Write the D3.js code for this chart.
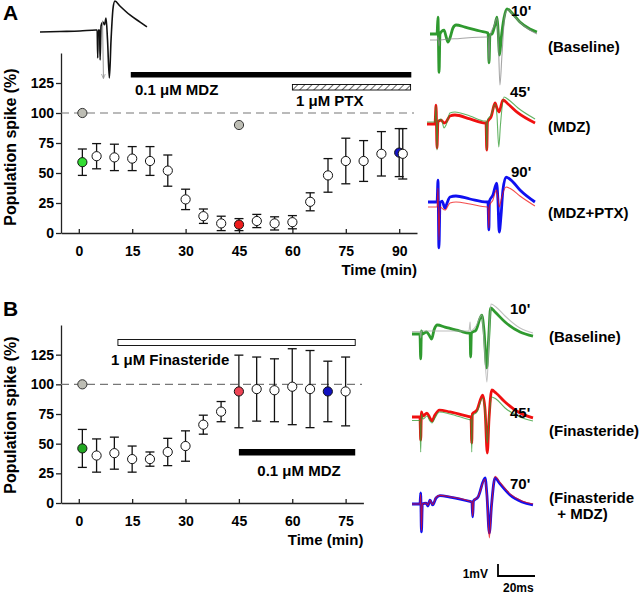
<!DOCTYPE html>
<html><head><meta charset="utf-8">
<script src="https://cdn.jsdelivr.net/npm/d3@7"></script>
<style>
body{margin:0;background:#fff}
svg{display:block}
text{font-family:"Liberation Sans",Arial,sans-serif;font-weight:bold;fill:#000}
</style></head><body>
<svg id="c" width="640" height="596"></svg>
<script>
// ---------- Panel A data ----------
const timeA = [1,5,10,15,20,25,30,35,40,45,50,55,60,65,70,75,80,85,90,91];
const meanA = [59,64,63,62,60,52,28,14,8,7,10,8,9,26,48,60,60,66,67,66];
const semA  = [11,10.5,11,10,12,13,8.5,6,6,5,5.5,5.5,5.5,7.5,14,19,17,18.5,20,21];
const markA = ["base","open","open","open","open","open","open","open","open","drug1","open","open","open","open","open","open","open","open","drug2","open"];
const grayTimeA = [1,45];
const grayMeanA = [100,90];
const xTicksA = [0,15,30,45,60,75,90];
const drugA = [{label:"0.1 μM MDZ", start:14.6, end:93.4, kind:"solid"},
               {label:"1 μM PTX", start:60, end:93.2, kind:"hatch"}];

// ---------- Panel B data ----------
const timeB = [1,5,10,15,20,25,30,35,40,45,50,55,60,65,70,75];
const meanB = [46,40,42,37,37,43,48,66,77,94,96,95,98,96,94,94];
const semB  = [16,14,13.5,11,6,11.5,12.8,8,8.5,30.6,27,26.5,32,32.5,25.5,29];
const markB = ["base","open","open","open","open","open","open","open","open","drug1","open","open","open","open","drug2","open"];
const grayTimeB = [1];
const grayMeanB = [100];
const xTicksB = [0,15,30,45,60,75];
const drugB = [{label:"1 μM Finasteride", start:11, end:77.7, kind:"open"},
               {label:"0.1 μM MDZ", start:45, end:77.7, kind:"solid"}];

const yTicks = [0,25,50,75,100,125];

// ---------- Example traces: [ms, mV] ----------
const traceTop = [[0,0],[10.8,0.04],[21.6,0.08],[30.3,0.17],[30.9,0.17],[31.2,-2.17],[31.5,0.17],[32.2,0.17],[32.5,-2.33],[33,0.5],[34,0.83],[34.9,0.6],[35.7,1.17],[36.5,-0.67],[37.5,-3.83],[38.4,-0.67],[39.5,2.0],[40.5,2.58],[43.2,2.17],[48.6,1.42],[54.1,0.83],[57.8,0.42]];

const traceA1Now = [[0,0],[3.8,0],[4.3,1.4],[4.9,-3.2],[5.4,0],[6.5,0.25],[7.6,0.33],[8.6,-0.17],[9.7,-0.67],[10.8,-0.33],[12.4,0.5],[14.1,0.75],[18.9,0.58],[27,0.25],[31.4,0.08],[31.9,-2.4],[32.4,-0.08],[33.5,0],[35.1,0.75],[36.2,1.4],[36.8,0.33],[37.6,-1.75],[38.4,-0.5],[40,1.33],[41.6,2.1],[44.3,1.75],[48.6,1.0],[54,0.42],[57.8,0.17]];
const traceA1Ref = [[0,-0.5],[3.8,-0.5],[4.3,-0.25],[4.9,-1],[5.4,-0.5],[16.2,-0.37],[30.8,-0.25],[31.4,-0.25],[31.9,-2.3],[32.4,-0.17],[34.6,0.67],[36.2,1.33],[37,-0.9],[37.8,-4.25],[38.9,-1.75],[40.5,1.6],[42.2,2.0],[45.9,1.4],[51.4,0.6],[57.8,0]];
const traceA2Now = [[0,0],[4.3,0],[4.9,1.58],[5.4,-2.0],[5.9,0.17],[7.6,0.33],[9.2,0.08],[10.3,0.17],[12.4,0.67],[15.1,0.75],[23.2,0.42],[31.4,0.08],[31.9,0.08],[32.3,-2.17],[32.7,0.17],[34.6,0.58],[36.8,1.75],[37.8,1.33],[38.9,1.0],[41.1,2.0],[43.8,1.67],[49.2,0.92],[58.4,0.08]];
const traceA2Ref = [[0,0.17],[4.3,0.17],[4.9,1.5],[5.4,-2.17],[5.9,0.25],[7.6,0.42],[8.1,0.25],[9.2,-0.33],[10.3,-0.08],[12.4,0.92],[15.1,1.0],[23.2,0.67],[31.4,0.25],[31.9,0.25],[32.3,-2.17],[32.7,0.33],[34.6,0.75],[36.8,1.67],[37.8,0.75],[38.8,-1.92],[39.7,-0.08],[41.6,2.25],[44.3,2.0],[49.2,1.33],[58.4,0.42]];
const traceA3Now = [[0,0],[4.9,0],[5.4,1.83],[5.9,-3.83],[6.5,-0.08],[7.6,0.08],[9.2,-0.5],[10.3,-0.08],[11.9,0.42],[15.1,0.5],[22.7,0.25],[31.9,0],[32.4,0],[32.9,-2.33],[33.2,0.08],[35.1,0.58],[37.1,1.58],[37.8,0.17],[38.5,-2.5],[39.5,-1.08],[40.5,1.0],[42.2,2.08],[44.9,1.83],[49.7,1.0],[57.8,0]];
const traceA3Ref = [[0,-0.42],[4.9,-0.42],[5.4,1.17],[5.9,-3.17],[6.5,-0.42],[9.2,-0.67],[11.9,-0.08],[15.1,0],[22.7,-0.17],[31.9,-0.42],[32.4,-0.42],[32.9,-2.17],[33.2,-0.33],[35.1,0.17],[37,1.0],[37.8,0.33],[38.6,-0.42],[39.5,0.17],[42.2,1.25],[44.9,1.08],[49.7,0.5],[57.8,-0.33]];

const traceB1Now = [[0,0],[4.3,0],[4.7,-2.08],[5.1,0.25],[5.7,0],[7.9,0.17],[9.2,-0.08],[10.6,-0.42],[11.9,0.33],[13.7,0.75],[17.8,0.58],[25.9,0.25],[30.8,0.08],[31.4,0.08],[31.7,-1.92],[32.1,0.08],[34.6,0.33],[37.7,1.58],[38.9,0.33],[40.4,-2.83],[41.4,-0.5],[42.5,2.17],[44.9,1.83],[50.3,1.0],[58.4,0.17],[65.4,-0.17]];
const traceB1Ref = [[0,0.21],[4.3,0.21],[4.7,-0.33],[5.1,0.25],[15.1,0.25],[30.8,0.25],[31.4,1.0],[31.7,0.25],[34.6,0.67],[37.7,1.58],[38.9,-0.5],[40.5,-4.0],[41.6,-0.5],[42.7,2.5],[45.4,2.25],[50.3,1.5],[58.4,0.5],[65.4,0.08]];
const traceB2Now = [[0,0],[4.3,0],[4.7,-1.92],[5.1,0.42],[5.9,0.08],[8.1,0.33],[9.7,-0.08],[10.8,-0.33],[12.4,0.17],[14.8,0.58],[20.5,0.42],[30.8,0.04],[31.9,0],[32.3,-2.17],[32.6,0.25],[35.1,0.58],[38.2,1.83],[39.5,0.58],[40.7,-3.0],[41.6,-0.25],[43.1,2.25],[45.4,2.0],[50.3,1.25],[58.4,0.33],[65.4,-0.08]];
const traceB2Ref = [[0,-0.29],[4.3,-0.29],[4.7,-2.92],[5.1,0.25],[5.9,-0.17],[8.1,0.08],[9.7,-0.33],[10.8,-0.5],[12.4,-0.08],[14.8,0.42],[20.5,0.25],[30.8,-0.21],[31.9,-0.25],[32.3,-2.92],[32.6,0.08],[35.1,0.42],[38.2,1.58],[39.5,0.42],[40.7,-2.17],[41.6,-0.25],[43.1,1.67],[45.4,1.5],[50.3,0.75],[58.4,0],[65.4,-0.33]];
const traceB3Now = [[0,0],[4.3,0],[4.7,0.92],[5.1,-2.33],[5.6,0],[7.6,0.08],[8.6,-0.17],[9.7,0.33],[11.2,-0.08],[13,0.5],[15.1,0.69],[20.5,0.58],[31.9,0.19],[32.4,0.17],[32.8,-1.08],[33.2,0.25],[35.7,0.58],[39.5,2.17],[40.5,0.75],[41.8,-2.42],[43,-0.08],[44.9,2.17],[47.6,1.67],[53,0.75],[59.5,0.17],[65.4,-0.08]];
const traceB3Ref = [[0,0],[4.3,0],[4.7,0.8],[5.1,-2.2],[5.6,0],[7.6,0.08],[8.6,-0.1],[9.7,0.3],[11.2,-0.05],[13,0.55],[15.1,0.72],[20.5,0.6],[31.9,0.2],[32.4,0.17],[32.8,-1.0],[33.2,0.25],[35.7,0.6],[39.5,2.05],[40.5,0.6],[41.8,-2.83],[43,-0.2],[44.9,2.3],[47.6,1.8],[53,0.85],[59.5,0.25],[65.4,0]];

const timeLabelsA = ["10'","45'","90'"];
const condLabelsA = [["(Baseline)"],["(MDZ)"],["(MDZ+PTX)"]];
const timeLabelsB = ["10'","45'","70'"];
const condLabelsB = [["(Baseline)"],["(Finasteride)"],["(Finasteride","  + MDZ)"]];
const scaleBar = {ms:20, mV:1};

// ---------- drawing ----------
const svg = d3.select("#c");
const defs = svg.append("defs");
const pat = defs.append("pattern").attr("id","hatch").attr("width",5).attr("height",5)
  .attr("patternUnits","userSpaceOnUse").attr("patternTransform","rotate(45)");
pat.append("rect").attr("width",5).attr("height",5).attr("fill","#fff");
pat.append("line").attr("x1",0).attr("y1",0).attr("x2",0).attr("y2",5).attr("stroke","#000").attr("stroke-width",1.2);
defs.append("marker").attr("id","arr").attr("viewBox","0 0 10 10").attr("refX",9).attr("refY",5)
  .attr("markerWidth",5).attr("markerHeight",5).attr("orient","auto")
  .append("path").attr("d","M0,1L10,5L0,9").attr("fill","none").attr("stroke","#999").attr("stroke-width",1.5);

function panel(cfg){
  const g = svg.append("g");
  const x = d3.scaleLinear().domain(cfg.xDomain).range(cfg.xRange);
  const y = d3.scaleLinear().domain([0,150]).range(cfg.yRange);
  const ya = g.append("g").attr("transform",`translate(${cfg.xRange[0]},0)`)
    .call(d3.axisLeft(y).tickValues(yTicks).tickSizeInner(5).tickSizeOuter(0).tickPadding(2));
  const xa = g.append("g").attr("transform",`translate(0,${cfg.yRange[0]})`)
    .call(d3.axisBottom(x).tickValues(cfg.xTicks).tickSizeInner(-4).tickSizeOuter(0).tickPadding(13));
  [ya,xa].forEach(a=>{
    a.selectAll("path,line").attr("stroke","#222").attr("stroke-width",1.3);
    a.selectAll("text").style("font-size","14px").style("font-weight","bold").attr("fill","#000")
      .style("font-family",'"Liberation Sans",Arial,sans-serif');
  });
  g.append("line").attr("x1",cfg.xRange[0]).attr("x2",cfg.dashEnd).attr("y1",y(100)).attr("y2",y(100))
    .attr("stroke","#777").attr("stroke-width",1.1).attr("stroke-dasharray","8,5");
  g.append("text").attr("transform",`translate(16,${cfg.yLabelY}) rotate(-90)`).attr("text-anchor","middle")
    .style("font-size","16px").text("Population spike (%)");
  g.append("text").attr("x",cfg.xRange[1]).attr("y",cfg.yRange[0]+42).attr("text-anchor","end")
    .style("font-size","15px").text("Time (min)");
  g.append("text").attr("x",3).attr("y",cfg.letterY).style("font-size","21px").text(cfg.letter);
  cfg.drugs.forEach((d,i)=>{
    const b = cfg.barY[i];
    g.append("rect").attr("x",x(d.start)).attr("width",x(d.end)-x(d.start)).attr("y",b[0]).attr("height",b[1])
      .attr("fill", d.kind==="solid" ? "#000" : d.kind==="hatch" ? "url(#hatch)" : "#fff")
      .attr("stroke","#000").attr("stroke-width", d.kind==="solid"?0:0.9);
    const lp = cfg.labelPos[i];
    g.append("text").attr("x",lp[0]).attr("y",lp[1]).attr("text-anchor",lp[2]).style("font-size","15px").text(d.label);
  });
  cfg.grayT.forEach((t,i)=>{
    g.append("circle").attr("cx",x(t)).attr("cy",y(cfg.grayM[i])).attr("r",4.6)
      .attr("fill","#bdbdb4").attr("stroke","#333").attr("stroke-width",1);
  });
  cfg.t.forEach((t,i)=>{
    const cx = x(t), m = cfg.m[i], s = cfg.s[i];
    const eg = g.append("g").attr("stroke","#111").attr("stroke-width",1.3);
    eg.append("line").attr("x1",cx).attr("x2",cx).attr("y1",y(m+s)).attr("y2",y(m-s));
    eg.append("line").attr("x1",cx-4.5).attr("x2",cx+4.5).attr("y1",y(m+s)).attr("y2",y(m+s));
    eg.append("line").attr("x1",cx-4.5).attr("x2",cx+4.5).attr("y1",y(m-s)).attr("y2",y(m-s));
  });
  cfg.t.forEach((t,i)=>{
    g.append("circle").attr("cx",x(t)).attr("cy",y(cfg.m[i])).attr("r",4.6)
      .attr("fill",cfg.colors[cfg.mark[i]]).attr("stroke","#111").attr("stroke-width",1);
  });
}

panel({xDomain:[-5,95], xRange:[61,417], yRange:[233,53], xTicks:xTicksA, dashEnd:414,
  yLabelY:147, letter:"A", letterY:20,
  drugs:drugA, barY:[[72,5.5],[84.5,5.5]], labelPos:[[135,95,"start"],[296,106,"start"]],
  grayT:grayTimeA, grayM:grayMeanA, t:timeA, m:meanA, s:semA, mark:markA,
  colors:{base:"#33dd33",open:"#fff",drug1:"#ee1c1c",drug2:"#1616c8"}});
panel({xDomain:[-5,80], xRange:[61,363.4], yRange:[503,325], xTicks:xTicksB, dashEnd:362,
  yLabelY:415, letter:"B", letterY:316,
  drugs:drugB, barY:[[339.5,6],[449,6.5]], labelPos:[[111,365,"start"],[299,476,"middle"]],
  grayT:grayTimeB, grayM:grayMeanB, t:timeB, m:meanB, s:semB, mark:markB,
  colors:{base:"#22a822",open:"#fff",drug1:"#ee4455",drug2:"#1212c0"}});

// ---------- traces ----------
function tScales(x0,y0){
  return {x:d3.scaleLinear().domain([0,scaleBar.ms]).range([x0,x0+37]),
          y:d3.scaleLinear().domain([0,scaleBar.mV]).range([y0,y0-12])};
}
function drawTrace(data,sc,color,w,op){
  const line = d3.line().x(d=>sc.x(d[0])).y(d=>sc.y(d[1])).curve(d3.curveMonotoneX);
  svg.append("path").attr("d",line(data)).attr("fill","none").attr("stroke",color)
    .attr("stroke-width",w).attr("stroke-linejoin","round").attr("opacity",op||1);
}
const sTop = tScales(40,32);
drawTrace(traceTop,sTop,"#111",1.6);
svg.append("line").attr("x1",sTop.x(33.8)).attr("y1",sTop.y(0.95)).attr("x2",sTop.x(34.3)).attr("y2",sTop.y(-3.85))
  .attr("stroke","#999").attr("stroke-width",1).attr("marker-end","url(#arr)");

const green="#2f9a2f", red="#f01010", blue="#1010f0";
const tracesA = [
  {o:[430,34], now:traceA1Now, ref:traceA1Ref, cNow:green, cRef:"#888"},
  {o:[427,124], now:traceA2Now, ref:traceA2Ref, cNow:red, cRef:green},
  {o:[428,202], now:traceA3Now, ref:traceA3Ref, cNow:blue, cRef:red}];
const tracesB = [
  {o:[412,334], now:traceB1Now, ref:traceB1Ref, cNow:green, cRef:"#aaa"},
  {o:[412,417], now:traceB2Now, ref:traceB2Ref, cNow:red, cRef:green},
  {o:[412,504], now:traceB3Now, ref:traceB3Ref, cNow:blue, cRef:red}];
tracesA.concat(tracesB).forEach(tr=>{
  const sc = tScales(tr.o[0],tr.o[1]);
  drawTrace(tr.now,sc,tr.cNow,2.8);
  drawTrace(tr.ref,sc,tr.cRef,1.1,0.75);
});

const timePosA = [[511,16],[510,97],[511,177]];
const condPosA = [[548,52],[548,132],[548,218]];
const timePosB = [[510,314],[510,418],[510,489]];
const condPosB = [[549,342],[549,436],[549,503]];
function labels(tl,tp,cl,cp){
  tl.forEach((t,i)=>svg.append("text").attr("x",tp[i][0]).attr("y",tp[i][1]).style("font-size","15px").text(t));
  cl.forEach((lines,i)=>lines.forEach((l,j)=>svg.append("text").attr("x",cp[i][0]).attr("y",cp[i][1]+j*16)
    .attr("xml:space","preserve").style("white-space","pre").style("font-size","15px").text(l)));
}
labels(timeLabelsA,timePosA,condLabelsA,condPosA);
labels(timeLabelsB,timePosB,condLabelsB,condPosB);

const sb = tScales(498,576);
svg.append("path").attr("d",`M${sb.x(0)},${sb.y(scaleBar.mV)}V${sb.y(0)}H${sb.x(scaleBar.ms)}`)
  .attr("fill","none").attr("stroke","#000").attr("stroke-width",1.8);
svg.append("text").attr("x",488).attr("y",578).attr("text-anchor","end").style("font-size","12px").text(scaleBar.mV+"mV");
svg.append("text").attr("x",503).attr("y",592).style("font-size","12px").text(scaleBar.ms+"ms");
</script></body></html>
